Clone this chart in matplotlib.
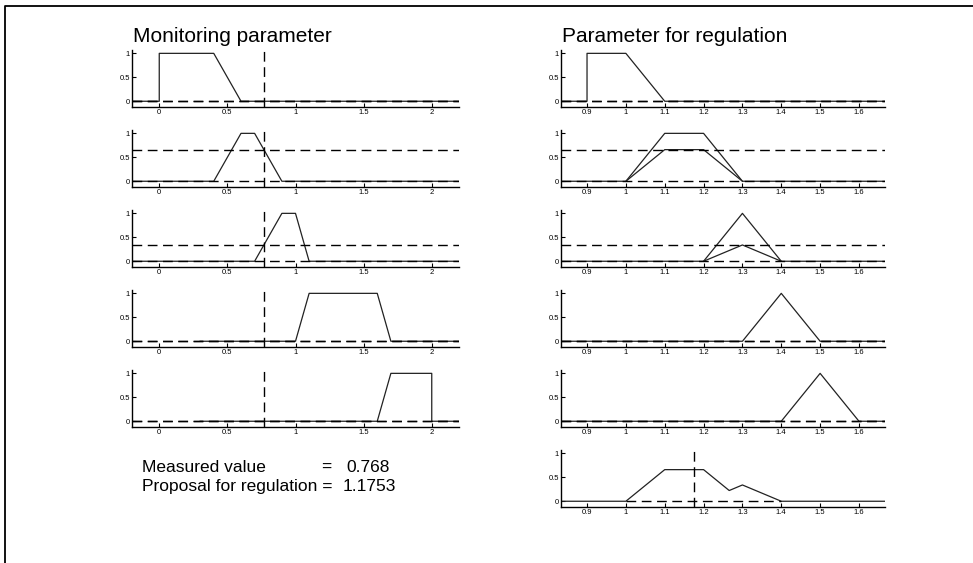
import matplotlib
matplotlib.use("Agg")
import matplotlib.pyplot as plt
from matplotlib.lines import Line2D

plt.rcParams['font.family'] = ['Liberation Sans', 'DejaVu Sans']

# measured input and result
measured = 0.768
proposal = 1.1753

# membership functions of the monitoring parameter (left column)
mon_x = [[-0.2, 0.0, 0.0, 0.4, 0.6, 2.2],
         [-0.2, 0.4, 0.6, 0.7, 0.9, 2.2],
         [-0.2, 0.7, 0.9, 1.0, 1.1, 2.2],
         [0.3, 1.0, 1.1, 1.6, 1.7, 2.2],
         [0.3, 1.6, 1.7, 2.0, 2.0, 2.2]]
mon_y = [[0, 0, 1, 1, 0, 0],
         [0, 0, 1, 1, 0, 0],
         [0, 0, 1, 1, 0, 0],
         [0, 0, 1, 1, 0, 0],
         [0, 0, 1, 1, 0, 0]]
# degree of membership of the measured value
mu = [0.0, 0.66, 0.34, 0.0, 0.0]

# membership functions of the regulation parameter (right column)
reg_x = [[0.833, 0.9, 0.9, 1.0, 1.1, 1.667],
         [0.833, 1.0, 1.1, 1.2, 1.3, 1.667],
         [0.833, 1.2, 1.3, 1.4, 1.667],
         [0.833, 1.3, 1.4, 1.5, 1.667],
         [0.833, 1.4, 1.5, 1.6, 1.667]]
reg_y = [[0, 0, 1, 1, 0, 0],
         [0, 0, 1, 1, 0, 0],
         [0, 0, 1, 0, 0],
         [0, 0, 1, 0, 0],
         [0, 0, 1, 0, 0]]
# scaled consequents
scaled_x = [None,
            [1.0, 1.1, 1.2, 1.3],
            [1.2, 1.3, 1.4],
            None, None]
scaled_y = [None,
            [0, 0.66, 0.66, 0],
            [0, 0.34, 0],
            None, None]
# aggregated output
agg_x = [0.833, 1.0, 1.1, 1.2, 1.266, 1.3, 1.4, 1.667]
agg_y = [0, 0, 0.66, 0.66, 0.224, 0.34, 0, 0]

left_ticks = [0, 0.5, 1, 1.5, 2]
left_labels = ['0', '0.5', '1', '1.5', '2']
right_ticks = [0.9, 1.0, 1.1, 1.2, 1.3, 1.4, 1.5, 1.6]
right_labels = ['0.9', '1', '1.1', '1.2', '1.3', '1.4', '1.5', '1.6']

W, H = 973, 563
fig = plt.figure(figsize=(W / 100, H / 100), dpi=100)


def make_ax(x0, x1, top, bottom):
    ax = fig.add_axes([x0 / W, 1 - bottom / H, (x1 - x0) / W, (bottom - top) / H])
    ax.spines['top'].set_visible(False)
    ax.spines['right'].set_visible(False)
    for s in ['left', 'bottom']:
        ax.spines[s].set_linewidth(1.0)
    ax.set_ylim(-0.12, 1.07)
    ax.set_yticks([0, 0.5, 1])
    ax.set_yticklabels(['0', '0.5', '1'])
    ax.tick_params(direction='in', length=3, width=0.8, labelsize=5.5, pad=1.5)
    return ax


dash = dict(color='black', lw=1.0, ls=(0, (7, 4)))
solid = dict(color='#222222', lw=0.9)

for i in range(5):
    top = 50 + 80 * i
    bottom = 107 + 80 * i
    ax = make_ax(132, 459, top, bottom)
    ax.set_xlim(-0.2, 2.2)
    ax.set_xticks(left_ticks)
    ax.set_xticklabels(left_labels)
    ax.plot(mon_x[i], mon_y[i], **solid)
    ax.axhline(0, **dash)
    ax.axhline(mu[i], **dash)
    ax.axvline(measured, **dash)

    ax = make_ax(561, 885, top, bottom)
    ax.set_xlim(0.833, 1.667)
    ax.set_xticks(right_ticks)
    ax.set_xticklabels(right_labels)
    ax.plot(reg_x[i], reg_y[i], **solid)
    if scaled_x[i] is not None:
        ax.plot(scaled_x[i], scaled_y[i], **solid)
    ax.axhline(0, **dash)
    ax.axhline(mu[i], **dash)

ax = make_ax(561, 885, 50 + 400, 107 + 400)
ax.set_xlim(0.833, 1.667)
ax.set_xticks(right_ticks)
ax.set_xticklabels(right_labels)
ax.plot(agg_x, agg_y, **solid)
ax.plot([1.0, 1.4], [0, 0], **dash)
ax.axvline(proposal, **dash)

fig.text(133 / W, 1 - 42 / H, 'Monitoring parameter', fontsize=15, va='baseline')
fig.text(562 / W, 1 - 42 / H, 'Parameter for regulation', fontsize=15, va='baseline')

fs = 12.5
fig.text(142 / W, 1 - 472 / H, 'Measured value', fontsize=fs, va='baseline')
fig.text(321 / W, 1 - 472 / H, '=', fontsize=fs, va='baseline')
fig.text(346 / W, 1 - 472 / H, '%g' % measured, fontsize=fs, va='baseline')
fig.text(142 / W, 1 - 491 / H, 'Proposal for regulation =', fontsize=fs, va='baseline')
fig.text(343 / W, 1 - 491 / H, '%.4f' % proposal, fontsize=fs, va='baseline')

# outer frame (only top and left edges visible)
fig.add_artist(Line2D([5 / W, 5 / W, 1], [0, 1 - 6 / H, 1 - 6 / H],
                      transform=fig.transFigure, color='black', lw=1.3))

fig.savefig('out.png', dpi=100)
